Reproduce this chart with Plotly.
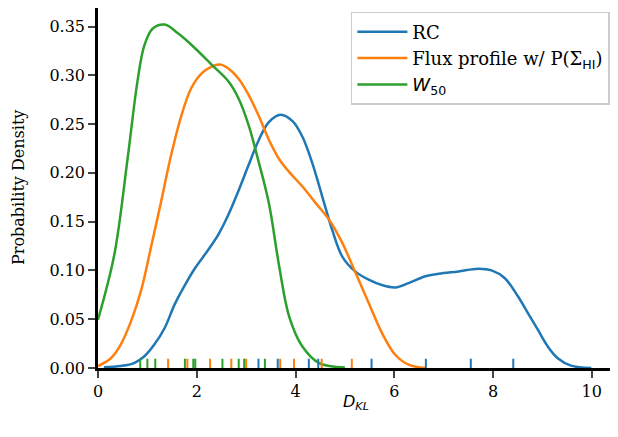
import plotly.graph_objects as go

# KDE curves
rc_x = [0.12, 0.46, 0.73, 0.94, 1.14, 1.35, 1.55, 1.76, 1.96, 2.23, 2.44, 2.64, 2.84, 3.05, 3.25, 3.46, 3.70, 3.94, 4.14, 4.34, 4.54, 4.74, 4.95, 5.21, 5.48, 5.75, 6.02, 6.29, 6.63, 6.90, 7.30, 7.70, 7.97, 8.24, 8.51, 8.71, 8.91, 9.11, 9.31, 9.58, 9.99]
rc_y = [0.0007, 0.002, 0.005, 0.012, 0.024, 0.041, 0.065, 0.085, 0.102, 0.121, 0.137, 0.157, 0.181, 0.208, 0.233, 0.252, 0.2595, 0.253, 0.237, 0.210, 0.176, 0.142, 0.114, 0.099, 0.0905, 0.085, 0.0826, 0.087, 0.094, 0.0965, 0.099, 0.1017, 0.100, 0.092, 0.073, 0.056, 0.039, 0.022, 0.010, 0.0024, 0.0]

flux_x = [0.0, 0.26, 0.46, 0.67, 0.87, 1.07, 1.28, 1.48, 1.69, 1.89, 2.10, 2.30, 2.47, 2.64, 2.84, 3.05, 3.25, 3.46, 3.67, 3.87, 4.14, 4.41, 4.68, 4.95, 5.22, 5.48, 5.75, 6.02, 6.29, 6.64]
flux_y = [0.002, 0.010, 0.024, 0.048, 0.079, 0.123, 0.171, 0.218, 0.259, 0.287, 0.302, 0.309, 0.311, 0.307, 0.297, 0.280, 0.259, 0.234, 0.214, 0.201, 0.186, 0.169, 0.152, 0.128, 0.097, 0.067, 0.036, 0.0136, 0.0034, 0.0]

w50_x = [0.0, 0.33, 0.60, 0.80, 0.94, 1.11, 1.35, 1.62, 1.96, 2.30, 2.64, 2.84, 3.05, 3.25, 3.46, 3.67, 3.87, 4.14, 4.48, 5.0]
w50_y = [0.0495, 0.116, 0.215, 0.294, 0.331, 0.348, 0.352, 0.343, 0.328, 0.311, 0.294, 0.277, 0.249, 0.212, 0.169, 0.104, 0.053, 0.022, 0.005, 0.0005]

# Rug (individual D_KL values)
rc_rug = [3.25, 3.64, 4.27, 4.46, 5.54, 6.64, 7.55, 8.41]
flux_rug = [1.42, 1.81, 2.27, 2.70, 3.00, 3.69, 3.97, 4.53, 5.14]
w50_rug = [0.855, 1.00, 1.16, 1.76, 1.93, 1.97, 2.52, 2.85, 2.96, 3.38]

x_ticks = [0, 2, 4, 6, 8, 10]
y_ticks = [0.0, 0.05, 0.10, 0.15, 0.20, 0.25, 0.30, 0.35]

colors = ["#1f77b4", "#ff7f0e", "#2ca02c"]
names = [
    "RC",
    "Flux profile w/ P(Σ<sub><span style='font-family:DejaVu Sans'>HI</span></sub>)",
    "<span style='font-family:DejaVu Sans'><i>W</i><sub>50</sub></span>",
]
RUG_H = 0.0095

fig = go.Figure()
for xs, ys, c, n in zip([rc_x, flux_x, w50_x], [rc_y, flux_y, w50_y], colors, names):
    fig.add_trace(go.Scatter(x=xs, y=ys, mode="lines", name=n,
                             line=dict(color=c, width=2.5, shape="spline", smoothing=1.0)))

for rug, c in zip([rc_rug, flux_rug, w50_rug], colors):
    rx, ry = [], []
    for v in rug:
        rx += [v, v, None]
        ry += [0, RUG_H, None]
    fig.add_trace(go.Scatter(x=rx, y=ry, mode="lines", showlegend=False,
                             line=dict(color=c, width=2), hoverinfo="skip"))

serif = "DejaVu Serif, serif"

# the page body adds an 8px offset, so the figure is sized to the remaining viewport
fig.update_layout(
    width=610, height=429,
    margin=dict(l=90, r=4, t=0, b=69),
    paper_bgcolor="white", plot_bgcolor="white",
    font=dict(family=serif, size=16, color="black"),
    legend=dict(x=0.992, y=0.989, xanchor="right", yanchor="top",
                bgcolor="rgba(255,255,255,0.8)", bordercolor="#cccccc", borderwidth=1.5,
                font=dict(family=serif, size=18), itemwidth=50),
    annotations=[
        dict(text="Probability Density", xref="paper", yref="paper",
             x=-0.155, y=0.5, xanchor="center", yanchor="middle", textangle=-90, showarrow=False,
             font=dict(family=serif, size=16)),
        dict(text="<i>D</i><sub><i>KL</i></sub>", xref="paper", yref="paper",
             x=0.5, y=-0.097, xanchor="center", yanchor="middle", showarrow=False,
             font=dict(family="DejaVu Sans", size=16)),
    ],
)
fig.update_xaxes(range=[0, 10.45], tickvals=x_ticks, ticks="outside", ticklen=7, tickwidth=2,
                 showline=True, linewidth=2.5, linecolor="black", showgrid=False, zeroline=False,
                 automargin=False, tickfont=dict(family=serif, size=16, weight="normal"))
fig.update_yaxes(range=[0, 0.369], tickvals=y_ticks, tickformat=".2f", ticks="outside", ticklen=7, tickwidth=2,
                 showline=True, linewidth=2.5, linecolor="black", showgrid=False, zeroline=False,
                 automargin=False, tickfont=dict(family=serif, size=16, weight="normal"))

fig.write_html("out.html")
